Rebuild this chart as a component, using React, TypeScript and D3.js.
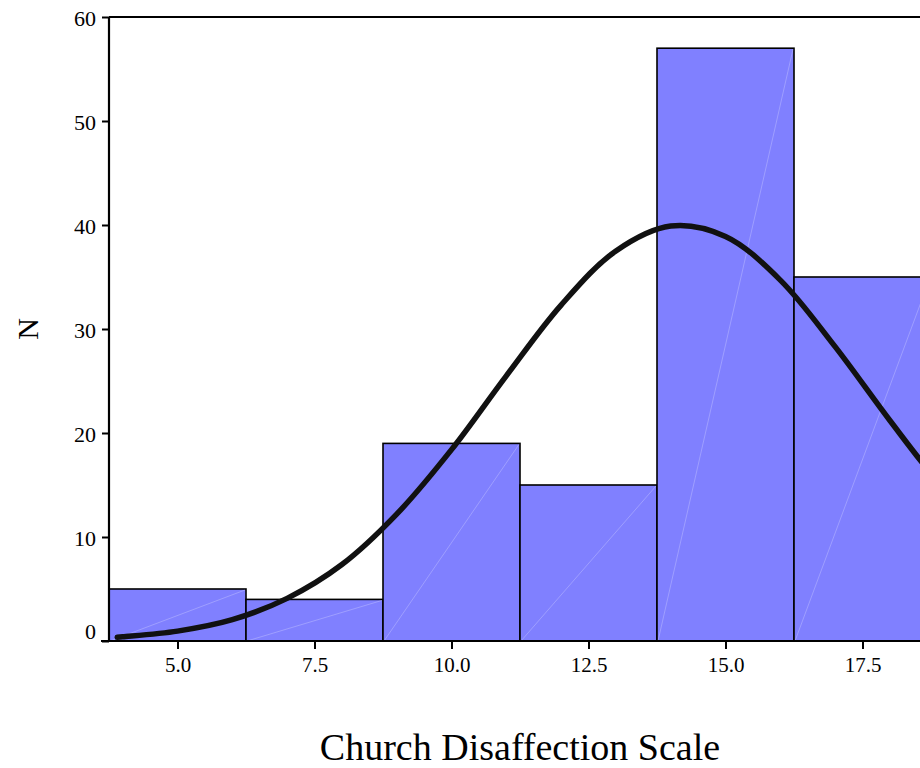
import * as d3 from "d3";
import { useEffect, useRef } from "react";

// histogram bins (centre of each 2.5-wide bin) and counts
const binCenters = [5.0, 7.5, 10.0, 12.5, 15.0, 17.5, 20.0];
const counts = [5, 4, 19, 15, 57, 35, 12];
const binWidth = 2.5;

// normal curve
const curveX = [3.9, 4, 5, 6, 7, 8, 9, 10, 11, 12, 13, 14, 15, 16, 17, 18, 19, 20];
const curveY = [0.35, 0.4, 0.95, 2.05, 4.1, 7.35, 12.2, 18.4, 25.5, 32.3, 37.5, 39.9, 38.9, 34.7, 28.3, 21.2, 14.5, 9.0];

const xTicks = [5.0, 7.5, 10.0, 12.5, 15.0, 17.5];
const yTicks = [0, 10, 20, 30, 40, 50, 60];

export default function App() {
  const ref = useRef<SVGSVGElement>(null);

  useEffect(() => {
    if (!ref.current) return;
    const svg = d3.select(ref.current);
    svg.selectAll("*").remove();

    const font = "'Liberation Serif', 'Times New Roman', serif";
    const left = 109;
    const top = 17;
    const bottom = 641;
    const right = 1000;

    const x = d3.scaleLinear().domain([3.75, 20]).range([left, left + 16.25 * 54.8]);
    const y = d3.scaleLinear().domain([0, 60]).range([bottom, top]);

    const g = svg.append("g");

    // bars
    const bins = binCenters.map((c, i) => ({ x0: c - binWidth / 2, x1: c + binWidth / 2, n: counts[i] }));
    g.selectAll(".bar")
      .data(bins)
      .join("rect")
      .attr("class", "bar")
      .attr("x", d => x(d.x0))
      .attr("y", d => y(d.n))
      .attr("width", d => x(d.x1) - x(d.x0))
      .attr("height", d => y(0) - y(d.n))
      .attr("fill", "#8080ff")
      .attr("stroke", "#000")
      .attr("stroke-width", 1.6);

    // faint diagonal artefacts inside bars
    g.selectAll(".diag")
      .data(bins)
      .join("line")
      .attr("x1", d => x(d.x0) + 1)
      .attr("y1", y(0))
      .attr("x2", d => x(d.x1) - 1)
      .attr("y2", d => y(d.n) + 1)
      .attr("stroke", "#ffffff")
      .attr("stroke-opacity", 0.3)
      .attr("stroke-width", 0.8);

    // normal curve
    const pts = curveX.map((v, i) => [v, curveY[i]] as [number, number]);
    const line = d3
      .line<[number, number]>()
      .x(d => x(d[0]))
      .y(d => y(d[1]))
      .curve(d3.curveCatmullRom);
    g.append("path")
      .datum(pts)
      .attr("d", line)
      .attr("fill", "none")
      .attr("stroke", "#111")
      .attr("stroke-width", 5.5)
      .attr("stroke-linecap", "round");

    // frame: top line
    g.append("line")
      .attr("x1", left)
      .attr("x2", right)
      .attr("y1", top)
      .attr("y2", top)
      .attr("stroke", "#000")
      .attr("stroke-width", 2);

    // y axis
    const yAxis = g
      .append("g")
      .attr("transform", `translate(${left},0)`)
      .call(d3.axisLeft(y).tickValues(yTicks).tickSize(7).tickPadding(6).tickFormat(d3.format("d")));
    yAxis.select(".domain").attr("stroke", "#000").attr("stroke-width", 2.2).attr("d", `M0,${top}V${bottom}`);
    yAxis.selectAll("line").attr("stroke", "#000").attr("stroke-width", 2);
    yAxis
      .selectAll("text")
      .style("font-family", font)
      .style("font-size", "22px")
      .attr("fill", "#000")
      .attr("dy", (d: any) => (d === 0 ? "-0.1em" : "0.4em"));

    // x axis
    const xAxis = g
      .append("g")
      .attr("transform", `translate(0,${bottom})`)
      .call(d3.axisBottom(x).tickValues(xTicks).tickSize(8).tickPadding(8).tickFormat(d3.format(".1f")));
    xAxis.select(".domain").attr("stroke", "#000").attr("stroke-width", 2.2).attr("d", `M${left - 8},0H${right}`);
    xAxis.selectAll("line").attr("stroke", "#000").attr("stroke-width", 2);
    xAxis.selectAll("text").style("font-family", font).style("font-size", "21px").attr("fill", "#000");

    // axis titles
    svg
      .append("text")
      .attr("transform", `translate(38,${(top + bottom) / 2}) rotate(-90)`)
      .attr("text-anchor", "middle")
      .style("font-family", font)
      .style("font-size", "30px")
      .attr("fill", "#000")
      .text("N");

    svg
      .append("text")
      .attr("x", 520)
      .attr("y", 760)
      .attr("text-anchor", "middle")
      .style("font-family", font)
      .style("font-size", "38px")
      .attr("fill", "#000")
      .text("Church Disaffection Scale");
  }, []);

  return (
    <svg
      ref={ref}
      width={920}
      height={768}
      style={{ position: "absolute", left: 0, top: 0, background: "#fff", display: "block" }}
    />
  );
}
